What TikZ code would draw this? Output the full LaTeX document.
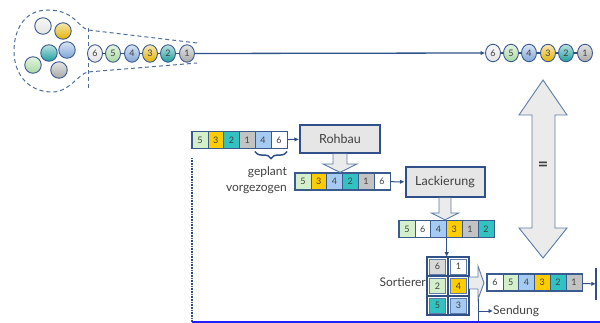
\documentclass[tikz,border=0pt]{standalone}
\usepackage{fontspec}
\setmainfont{Lato}
\usetikzlibrary{shapes.geometric,fit,calc,arrows.meta,decorations.pathreplacing,backgrounds}

\definecolor{navy}{HTML}{2F5089}
\definecolor{frameblue}{HTML}{3B5B8F}
\definecolor{dashblue}{HTML}{4F6E9E}
\definecolor{arrowfill}{HTML}{EBEBEB}
\definecolor{arrowedge}{HTML}{5E7CAB}
\definecolor{boxfill}{HTML}{E6E6E6}
\definecolor{ink}{HTML}{404040}
\definecolor{cgreen}{HTML}{D3F0CB}
\definecolor{cgold}{HTML}{FFCC00}
\definecolor{cteal}{HTML}{33C2C2}
\definecolor{cgray}{HTML}{C3C3C3}
\definecolor{clgray}{HTML}{D9D9D9}
\definecolor{cblue}{HTML}{A6CBF2}
\definecolor{floorblue}{HTML}{1F1FFF}
\definecolor{bwhite}{HTML}{E4E4E4}
\definecolor{bgreen}{HTML}{A9D8A2}
\definecolor{bblue}{HTML}{7FA6D8}
\definecolor{bgold}{HTML}{E2B200}
\definecolor{bteal}{HTML}{1E9E9E}
\definecolor{bgray}{HTML}{A8A8A8}

% a row of six numbered cells with a frame round it
\newcommand\cellbar[4]{%
  \foreach \fc/\lb [count=\k] in {#4}
    \node[cell=\fc] (#1-\k) at ({#2+(\k-0.5)*15.8},#3) {\lb};
  \node[barframe, fit=(#1-1)(#1-6)] (#1) {};
}

\begin{document}
\begin{tikzpicture}[x=1pt,y=-1pt,
  lbl/.style={font=\fontsize{12}{16}\selectfont, text=ink, inner sep=0},
  ball/.style={ellipse, minimum width=15, minimum height=17.5, inner sep=0,
    draw=frameblue, line width=0.9, top color=#1!30!white, bottom color=#1,
    font=\fontsize{9}{9}\selectfont, text=ink},
  loose/.style={circle, minimum size=16.5, inner sep=0, draw=frameblue,
    line width=0.9, top color=#1!30!white, bottom color=#1},
  cell/.style={rectangle, minimum width=15.8, minimum height=16.5, inner sep=0,
    draw=frameblue, line width=0.6, fill=#1, font=\fontsize{9}{9}\selectfont, text=ink},
  barframe/.style={draw=frameblue, line width=1.2, inner sep=0},
  sortcell/.style={rectangle, minimum width=16, minimum height=15, inner sep=0,
    draw=arrowedge, line width=0.5, fill=#1, font=\fontsize{9}{9}\selectfont, text=ink},
  stage/.style={rectangle, fill=boxfill, draw=navy, line width=2,
    font=\fontsize{12.5}{14}\selectfont, text=ink},
  flow/.style={navy, line width=1, -{Latex[length=4.5pt,width=4.5pt]}},
  blockarrow/.style={fill=arrowfill, draw=arrowedge, line width=0.9, line join=miter},
  chainline/.style={navy, line width=1.3},
  funnel/.style={dashblue, line width=1, dash pattern=on 4pt off 3pt},
]
\useasboundingbox (0,0) rectangle (600,323);

% pool of unordered cars and the funnel into the sequence
\draw[funnel] (197,43) -- (88,30) .. controls (78,27) and (74,10) .. (48,10)
  .. controls (24,10) and (14,30) .. (14,51)
  .. controls (14,76) and (30,92) .. (52,92)
  .. controls (70,92) and (78,74) .. (88,72) -- (197,63);
\draw[funnel] (88,28) -- (88,89);

\node[loose=bwhite] (p1) at (43,26) {};
\node[loose=bgold]  (p2) at (63,31) {};
\node[loose=bteal]  (p3) at (49,53) {};
\node[loose=bblue]  (p4) at (67,50) {};
\node[loose=bgreen] (p5) at (33,65) {};
\node[loose=bgray]  (p6) at (59,70) {};

% planned sequence (left) and delivered sequence (right)
\foreach \c/\n/\x in {bwhite/6/95, bgreen/5/113, bblue/4/132, bgold/3/150, bteal/2/168, bgray/1/187}
  \node[ball=\c] (l\n) at (\x,53.5) {\n};
\foreach \c/\n/\x in {bwhite/6/493, bgreen/5/511, bblue/4/529, bgold/3/548, bteal/2/566, bgray/1/585}
  \node[ball=\c] (r\n) at (\x,53) {\n};
\begin{scope}[on background layer]
  \draw[chainline] (l6) -- (l1);
  \draw[chainline] (r6) -- (r1);
\end{scope}
\draw[chainline, -{Latex[length=4.5pt,width=4.5pt]}] (l1.east) -- (r6.west);

% equality arrow
\draw[blockarrow] (543,80) -- (567,115) -- (555,115) -- (555,228) -- (567,228)
  -- (543,258) -- (519,228) -- (532,228) -- (532,115) -- (519,115) -- cycle;
\node[font=\fontsize{18}{18}\selectfont\bfseries, text=ink] (eq) at (543,166) {=};

% production line
\cellbar{seqA}{192}{140}{cgreen/5, cgold/3, cteal/2, cgray/1, cblue/4, white/6}
\node[stage, minimum width=80, minimum height=28] (rohbau) at (340,139) {Rohbau};
\draw[flow] (seqA) -- (rohbau);

\draw[navy, line width=1.5, decorate, decoration={brace, mirror, amplitude=7pt}]
  ([yshift=-3pt]seqA-5.south west) -- ([yshift=-3pt]seqA-6.south east);
\node[lbl, align=right, anchor=north east] (plan) at (287,166) {geplant\\vorgezogen};

\cellbar{seqB}{295}{181.5}{cgreen/5, cgold/3, cblue/4, cteal/2, cgray/1, white/6}
\draw[blockarrow] ([xshift=-7pt]rohbau.south) -- ([xshift=-7pt,yshift=-10pt]rohbau.south)
  -- ([xshift=-17pt,yshift=-10pt]rohbau.south) -- (rohbau.south |- seqB.north)
  -- ([xshift=17pt,yshift=-10pt]rohbau.south) -- ([xshift=7pt,yshift=-10pt]rohbau.south)
  -- ([xshift=7pt]rohbau.south);

\node[stage, minimum width=79, minimum height=30] (lack) at (445,182) {Lackierung};
\draw[flow] (seqB) -- (lack);

\cellbar{seqC}{399}{229}{cgreen/5, white/6, cblue/4, cgold/3, cgray/1, cteal/2}
\draw[blockarrow] ([xshift=-6pt]lack.south) -- ([xshift=-6pt,yshift=-15pt]lack.south)
  -- ([xshift=-13.5pt,yshift=-15pt]lack.south) -- (lack.south |- seqC.north)
  -- ([xshift=13.5pt,yshift=-15pt]lack.south) -- ([xshift=6pt,yshift=-15pt]lack.south)
  -- ([xshift=6pt]lack.south);

% sorting buffer
\node[sortcell=clgray] (s11) at (437.5,266.7) {6};
\node[sortcell=white]  (s12) at (458.5,266.7) {1};
\node[sortcell=cgreen] (s21) at (437.5,286)   {2};
\node[sortcell=cgold]  (s22) at (458.5,286)   {4};
\node[sortcell=cteal]  (s31) at (437.5,305.3) {5};
\node[sortcell=cblue]  (s32) at (458.5,305.3) {3};
\draw[navy, line width=2.2] (427,257) rectangle (469,315)
  (448,257) -- (448,315) (427,276.3) -- (469,276.3) (427,295.7) -- (469,295.7);
\node[fit=(s11)(s32), inner sep=2pt] (sorter) {};
\node[lbl, anchor=east] (sortlbl) at ([xshift=-1pt,yshift=4pt]sorter.west) {Sortierer};
\draw[flow] (seqC-3.south east) -- (seqC-3.south east |- sorter.north);

\draw[blockarrow] (469,277) -- (478,277) -- (478,266) -- (484,283) -- (478,299)
  -- (478,289) -- (469,289);
\coordinate (exitTop) at (478,299);
\coordinate (exitEnd) at (478,324);
\coordinate (split) at (478,311);
\draw[navy, line width=1] (exitTop) -- (exitEnd);
\node[lbl, anchor=west] (sendung) at (493,311) {Sendung};
\draw[flow] (split) -- (sendung.west);

\cellbar{seqD}{487}{282.5}{white/6, cgreen/5, cblue/4, cgold/3, cteal/2, cgray/1}
\node[rectangle, minimum width=10, minimum height=32, inner sep=0] (next) at (601,284) {};
\draw[navy, line width=2.6] (next.north west) -- (next.south west);
\draw[flow] (seqD) -- (next);

% frame of the plant
\coordinate (wallTop) at (192,158);
\coordinate (wallFoot) at (192,322);
\coordinate (floorEnd) at (601,322);
\draw[navy, line width=2, dash pattern=on 0.8pt off 0.8pt] (wallTop) -- (wallFoot);
\draw[floorblue, line width=2.2] (wallFoot) -- (floorEnd);
\end{tikzpicture}
\end{document}
